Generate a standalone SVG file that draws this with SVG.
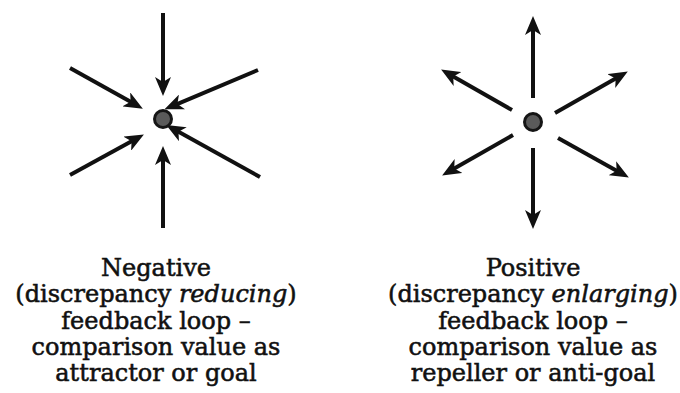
<svg xmlns="http://www.w3.org/2000/svg" width="680" height="393" viewBox="0 0 680 393">
<style>
.arr{stroke:#111;stroke-width:4;fill:none;marker-end:url(#ah)}
.dot{fill:#5a5a5a;stroke:#151515;stroke-width:3}
.lbl{font-family:"DejaVu Serif","Liberation Serif",serif;font-size:24px;fill:#111;stroke:#111;stroke-width:0.55;text-anchor:middle}
.it{font-style:italic}
</style>
<defs>
<marker id="ah" markerUnits="userSpaceOnUse" viewBox="0 0 19 16" markerWidth="19" markerHeight="16" refX="6" refY="8" orient="auto">
<path d="M0,0 L19,8 L0,16 L5,8 z" fill="#111"/>
</marker>
</defs>
<g id="connectors">
<line class="arr" x1="163" y1="13" x2="163" y2="83"/>
<line class="arr" x1="70" y1="68" x2="131.5" y2="102.3"/>
<line class="arr" x1="258" y1="70" x2="176.5" y2="104.3"/>
<line class="arr" x1="70" y1="175" x2="132.5" y2="140.8"/>
<line class="arr" x1="260" y1="177" x2="177.6" y2="131.3"/>
<line class="arr" x1="163" y1="228" x2="163" y2="159"/>
<line class="arr" x1="533" y1="98" x2="533" y2="29"/>
<line class="arr" x1="512" y1="110" x2="452.4" y2="76"/>
<line class="arr" x1="555" y1="113" x2="616.5" y2="78"/>
<line class="arr" x1="513" y1="135" x2="453.4" y2="169"/>
<line class="arr" x1="558" y1="138" x2="617.5" y2="171.2"/>
<line class="arr" x1="533" y1="148" x2="533" y2="216"/>
</g>
<g id="attractor">
<circle class="dot" cx="163" cy="119" r="8.5"/>
</g>
<g id="repeller">
<circle class="dot" cx="533" cy="122" r="8.5"/>
</g>
<g id="negative-label">
<text class="lbl" x="156" y="276">Negative</text>
<text class="lbl" x="156" y="302">(discrepancy <tspan class="it">reducing</tspan>)</text>
<text class="lbl" x="156" y="328.5">feedback loop –</text>
<text class="lbl" x="156" y="354.5">comparison value as</text>
<text class="lbl" x="156" y="381">attractor or goal</text>
</g>
<g id="positive-label">
<text class="lbl" x="533" y="276">Positive</text>
<text class="lbl" x="533" y="302">(discrepancy <tspan class="it">enlarging</tspan>)</text>
<text class="lbl" x="533" y="328.5">feedback loop –</text>
<text class="lbl" x="533" y="354.5">comparison value as</text>
<text class="lbl" x="533" y="381">repeller or anti-goal</text>
</g>
</svg>
